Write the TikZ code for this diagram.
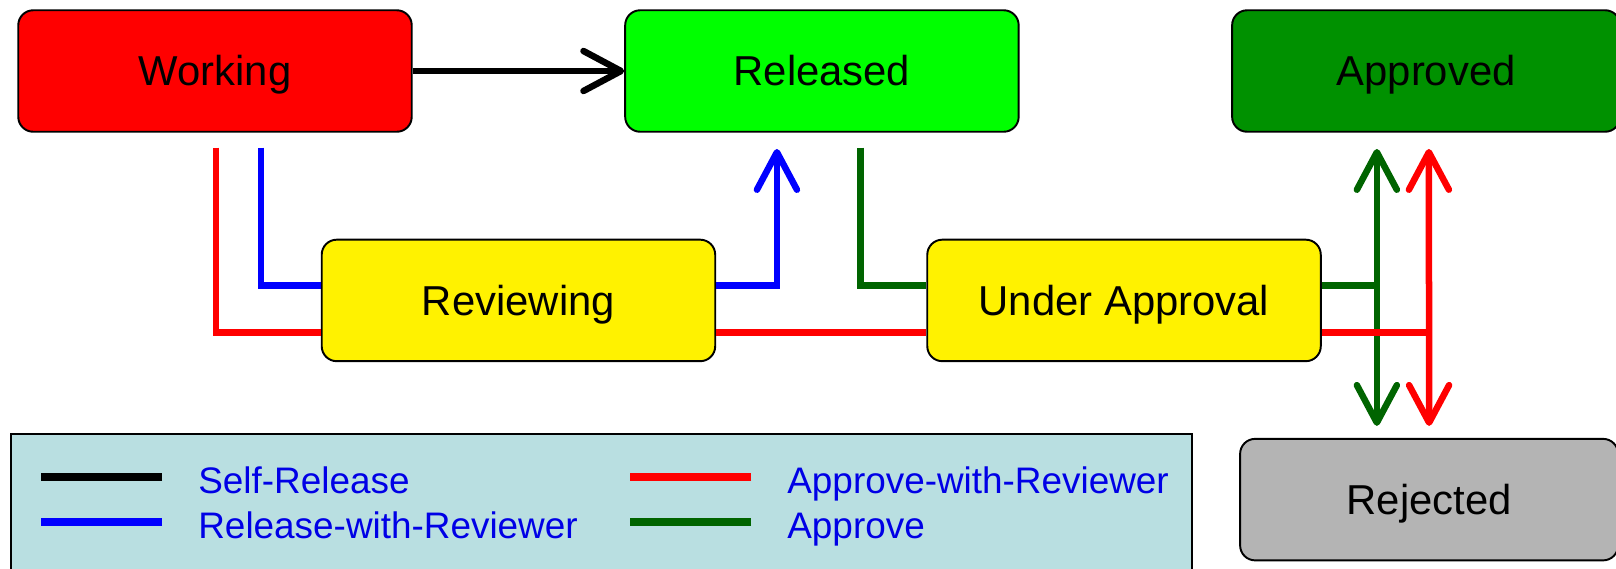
\documentclass[tikz,border=0pt]{standalone}
\usepackage{fontspec}
\setmainfont{Liberation Sans}
\usepackage{xcolor}
\usetikzlibrary{positioning, arrows.meta, calc}

\definecolor{apprfill}{RGB}{0,145,0}
\definecolor{apprline}{RGB}{0,100,0}
\definecolor{rejfill}{RGB}{180,180,180}
\definecolor{legfill}{RGB}{185,223,225}
\definecolor{legtext}{RGB}{0,0,230}

\begin{document}
\begin{tikzpicture}[
    node distance=4.23cm,
    >={Straight Barb[length=7.5mm, width=8mm, round]},
    stbox/.style={rectangle, rounded corners=0.3cm, draw=black, line width=1.1pt, fill=#1, minimum width=7.87cm, minimum height=2.43cm, align=center, text height=17pt, text depth=0pt, font=\fontsize{23.8}{28}\selectfont},
    stbox/.default={yellow},
    flow/.style={line width=3.7pt, draw=#1},
    keyline/.style={line width=4.7pt, draw=#1},
    legtxt/.style={anchor=west, text=legtext, text height=15pt, text depth=0pt, font=\fontsize{21}{25}\selectfont, inner sep=0pt}
]
\useasboundingbox (0,0) rectangle (32.32,-11.36);

% states
\node[stbox=red] (work) at (4.30,-1.42) {Working};
\node[stbox=green, right=of work] (rel) {Released};
\node[stbox=apprfill, minimum width=7.76cm, right=of rel] (app) {Approved};

\coordinate (mid1) at ($(work.south)!0.5!(rel.south)$);
\coordinate (mid2) at ($(rel.south)!0.5!(app.south)$);
\node[stbox, below=2.12cm of mid1] (rev) {Reviewing};
\node[stbox, below=2.12cm of mid2] (ua) {Under Approval};
\node[stbox=rejfill, minimum width=7.56cm, anchor=north] (rej) at ([xshift=0.06cm, yshift=-1.515cm]app |- ua.south) {Rejected};

% arrow ends
\coordinate (btop) at ([xshift=-0.9cm, yshift=-0.325cm]rel.south);
\coordinate (gtop) at ([xshift=-0.985cm, yshift=-0.325cm]app.south);
\coordinate (gbot) at ([xshift=-1.045cm, yshift=0.24cm]rej.north);
\coordinate (rtop) at ([xshift=0.055cm, yshift=-0.325cm]app.south);
\coordinate (rbot) at ([yshift=0.24cm]rej.north);

% self-release
\draw[flow=black, ->] (work.east) -- (rel.west);

% release-with-reviewer
\draw[flow=blue] ([xshift=0.92cm, yshift=-0.3cm]work.south) |- ([yshift=0.3cm]rev.west);
\draw[flow=blue, ->] ([yshift=0.3cm]rev.east) -| (btop);

% approve
\draw[flow=apprline] ([xshift=0.77cm, yshift=-0.3cm]rel.south) |- ([yshift=0.3cm]ua.west);
\draw[flow=apprline] ([yshift=0.3cm]ua.east) -- ([yshift=0.3cm]ua.east -| gtop);
\draw[flow=apprline, <->] (gtop) -- (gbot);

% approve-with-reviewer
\draw[flow=red] ([xshift=0.02cm, yshift=-0.3cm]work.south) |- ([yshift=-0.64cm]rev.west);
\draw[flow=red] ([yshift=-0.64cm]rev.east) -- ([yshift=-0.64cm]ua.west);
\draw[flow=red] ([yshift=-0.64cm]ua.east) -- ([yshift=-0.64cm]ua.east -| rtop);
\draw[flow=red, <->] (rtop) -- (rbot);

% legend
\node[draw=black, line width=1.1pt, fill=legfill, minimum width=23.61cm, minimum height=3.2cm, anchor=north west, inner sep=0pt] (legend) at (0.206,-8.66) {};
\node[legtxt] (k1) at (3.96,-9.6) {Self-Release};
\node[legtxt] (k2) at (3.96,-10.5) {Release-with-Reviewer};
\node[legtxt] (k3) at (15.74,-9.6) {Approve-with-Reviewer};
\node[legtxt] (k4) at (15.74,-10.5) {Approve};
\draw[keyline=black] ([xshift=-0.72cm, yshift=0.06cm]k1.west) -- +(-2.42,0);
\draw[keyline=blue] ([xshift=-0.72cm, yshift=0.06cm]k2.west) -- +(-2.42,0);
\draw[keyline=red] ([xshift=-0.72cm, yshift=0.06cm]k3.west) -- +(-2.42,0);
\draw[keyline=apprline] ([xshift=-0.72cm, yshift=0.06cm]k4.west) -- +(-2.42,0);

\end{tikzpicture}
\end{document}
